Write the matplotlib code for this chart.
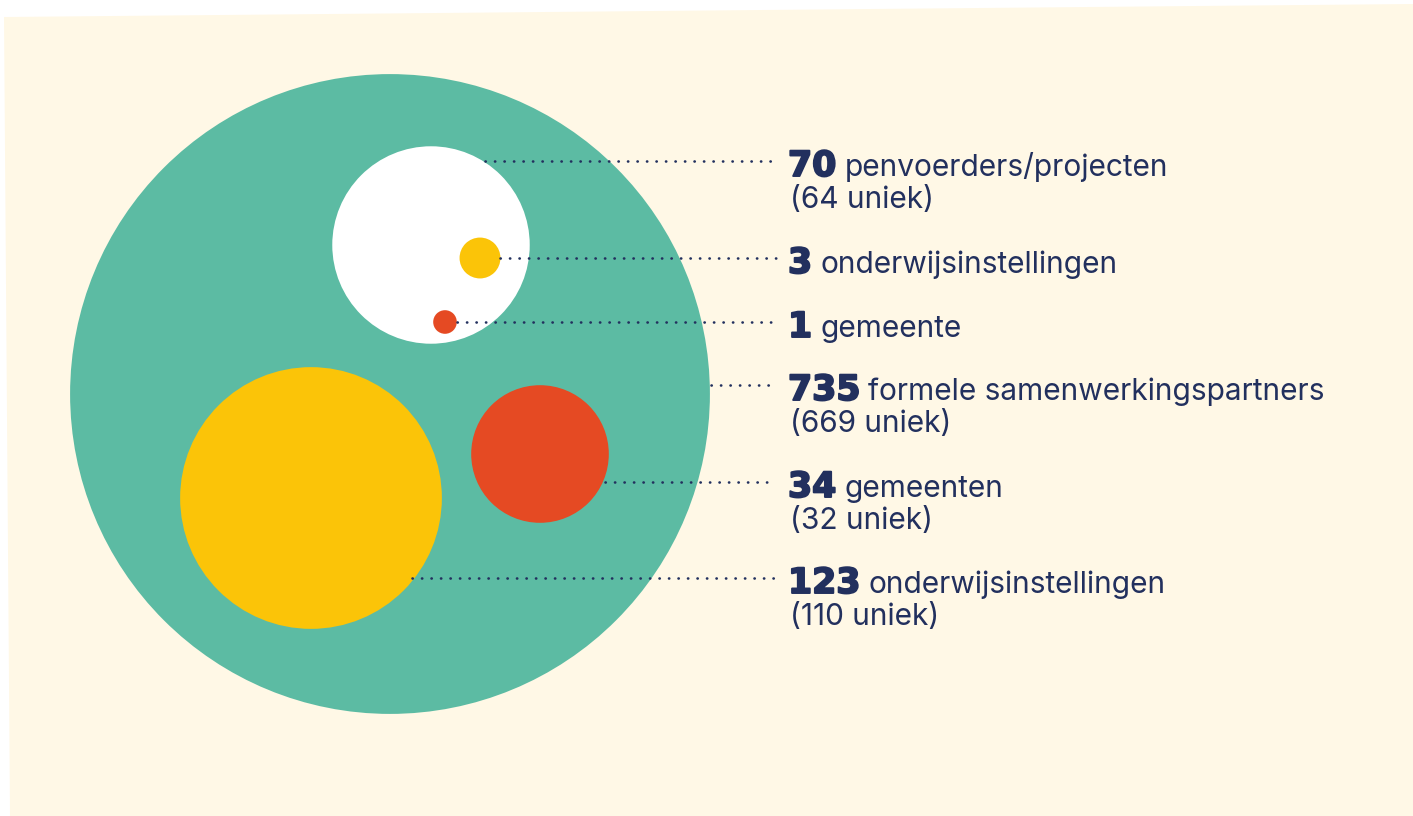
import matplotlib
matplotlib.use("Agg")
import matplotlib.pyplot as plt
from matplotlib.patches import Circle, Polygon
import matplotlib.patheffects as pe
import numpy as np

# counts shown in the diagram (circle area ~ count)
counts = [735, 70, 3, 1, 34, 123]
labels = ["formele samenwerkingspartners", "penvoerders/projecten",
          "onderwijsinstellingen", "gemeente", "gemeenten",
          "onderwijsinstellingen"]
uniek = [669, 64, None, None, 32, 110]

# layout (pixel space of the picture)
centers = [(390, 394), (431, 245), (480, 258), (445, 322), (540, 454), (311, 498)]
fills = ["#5CBBA3", "#FFFFFF", "#FBC408", "#E54A23", "#E54A23", "#FBC408"]
line_y = [385, 161, 258, 322, 482, 578]
line_x0 = [711, 485, 500, 457, 605, 412]
scale = 11.8

navy = "#22305E"
cream = "#FFF8E6"

fig = plt.figure(figsize=(14.13, 8.16), dpi=100)
ax = fig.add_axes([0, 0, 1, 1])
ax.set_xlim(0, 1413)
ax.set_ylim(816, 0)
ax.axis("off")

ax.add_patch(Polygon([(4, 17), (1413, 4), (1413, 816), (10, 816)],
                     closed=True, facecolor=cream, edgecolor="none"))

for c, n, col in zip(centers, counts, fills):
    ax.add_patch(Circle(c, scale * np.sqrt(n), facecolor=col, edgecolor="none"))

for x0, y in zip(line_x0, line_y):
    ax.plot([x0, 776], [y, y], color=navy, lw=1.9,
            linestyle=(0, (0.1, 3.5)), dash_capstyle="round")

fig.canvas.draw()
renderer = fig.canvas.get_renderer()
inv = ax.transData.inverted()

for n, lab, u, y in zip(counts, labels, uniek, line_y):
    base = y + 15
    t = ax.text(788, base, str(n), fontsize=25, fontweight="bold",
                family="DejaVu Sans", color=navy, va="baseline", ha="left",
                path_effects=[pe.withStroke(linewidth=1.4, foreground=navy)])
    bb = t.get_window_extent(renderer)
    x1 = inv.transform((bb.x1, bb.y0))[0]
    ax.text(x1 + 8, base, lab, fontsize=21.5, family="Inter", color=navy,
            va="baseline", ha="left")
    if u is not None:
        ax.text(790, base + 32, "(%d uniek)" % u, fontsize=21.5, family="Inter",
                color=navy, va="baseline", ha="left")

fig.savefig("out.png", dpi=100, facecolor="white")
